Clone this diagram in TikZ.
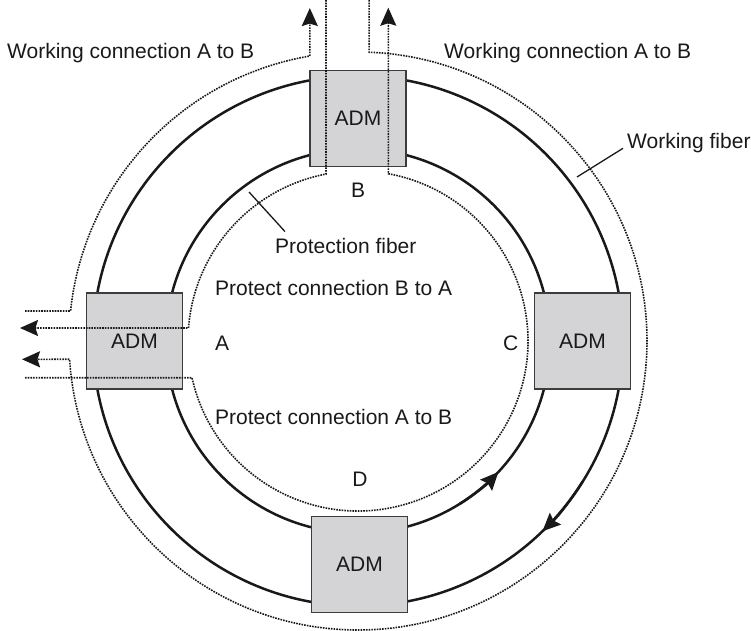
\documentclass[tikz,border=0pt]{standalone}
\usepackage{fontspec}
\setmainfont{Liberation Sans}
\usetikzlibrary{arrows.meta,calc}
\definecolor{boxfill}{RGB}{212,212,214}
\definecolor{boxline}{RGB}{60,60,60}
\definecolor{ink}{RGB}{25,25,25}
\begin{document}
\begin{tikzpicture}[x=1pt,y=1pt,
  fiber/.style={ink, line width=2.5pt},
  dotline/.style={ink, line width=1.6pt, dash pattern=on 1.6pt off 1.1pt},
  adm/.style={draw=boxline, fill=boxfill, line width=1.8pt, minimum width=96pt, minimum height=96pt, inner sep=0pt, font=\fontsize{21}{25}\selectfont, text=ink},
  lbl/.style={inner sep=0pt, font=\fontsize{21}{25}\selectfont, text=ink},
  tip/.style={-{Stealth[length=18pt,width=16pt,inset=2.5pt]}},
  leader/.style={ink, line width=1.3pt}]
\useasboundingbox (0,0) rectangle (751,630);
\coordinate (C) at (358,289);
% fibers
\draw[fiber] (C) circle[radius=265];
\draw[fiber] (C) circle[radius=192];
% ADM boxes
\node[adm] (admB) at (358,511.5) {ADM};
\node[adm] (admA) at (134.5,289) {ADM};
\node[adm] (admC) at (582.5,289) {ADM};
\node[adm] (admD) at (359.5,65.5) {ADM};
% direction arrows on fibers
\draw[fiber, tip] ($(C)+(-58:192)$) arc[start angle=-58, end angle=-43, radius=192];
\draw[fiber, tip] ($(C)+(-32:265)$) arc[start angle=-32, end angle=-45.9, radius=265];
% connections
\coordinate (w1) at (25,319);
\coordinate (w2) at (369.1,630);
\coordinate (w2e) at (22,270.7);
\coordinate (p1) at (326,630);
\coordinate (p1e) at (20,302);
\coordinate (p2) at (25,252.3);
\draw[dotline, tip] (w1) -- ($(C)+(174.04:289)$) arc[start angle=174.04, end angle=99.6, radius=289] -- ++(0,48);
\draw[dotline, tip] (w2) -- ($(C)+(87.8:289)$) arc[start angle=87.8, end angle=-176.37, radius=289] -- (w2e);
\draw[dotline, tip] (p1) -- ($(C)+(100.85:170)$) arc[start angle=100.85, end angle=175.61, radius=170] -- (p1e);
\draw[dotline, tip] (p2) -- ($(C)+(192.47:170)$) arc[start angle=192.47, end angle=439.73, radius=170] -- ++(0,166);
% labels
\node[lbl, anchor=base west] (wcl) at (7,571) {Working connection A to B};
\node[lbl, anchor=base west] (wcr) at (444,571.5) {Working connection A to B};
\node[lbl, anchor=base west] (wf) at (627,481.7) {Working fiber};
\coordinate (wfend) at (577,453);
\draw[leader] ([xshift=-4pt]wf.base west) -- (wfend);
\node[lbl, anchor=base] (lB) at (358,432) {B};
\node[lbl, anchor=base west] (pf) at (275,377) {Protection fiber};
\coordinate (pfend) at (249,438);
\draw[leader] ([xshift=10pt,yshift=6pt]pf.north west) -- (pfend);
\node[lbl, anchor=base west] (pba) at (215,335) {Protect connection B to A};
\node[lbl, anchor=base west] (lA) at (215,279.3) {A};
\node[lbl, anchor=base west] (pab) at (215,206) {Protect connection A to B};
\node[lbl, anchor=base west] (lC) at (503,279.3) {C};
\node[lbl, anchor=base] (lD) at (360,143.3) {D};
\end{tikzpicture}
\end{document}
